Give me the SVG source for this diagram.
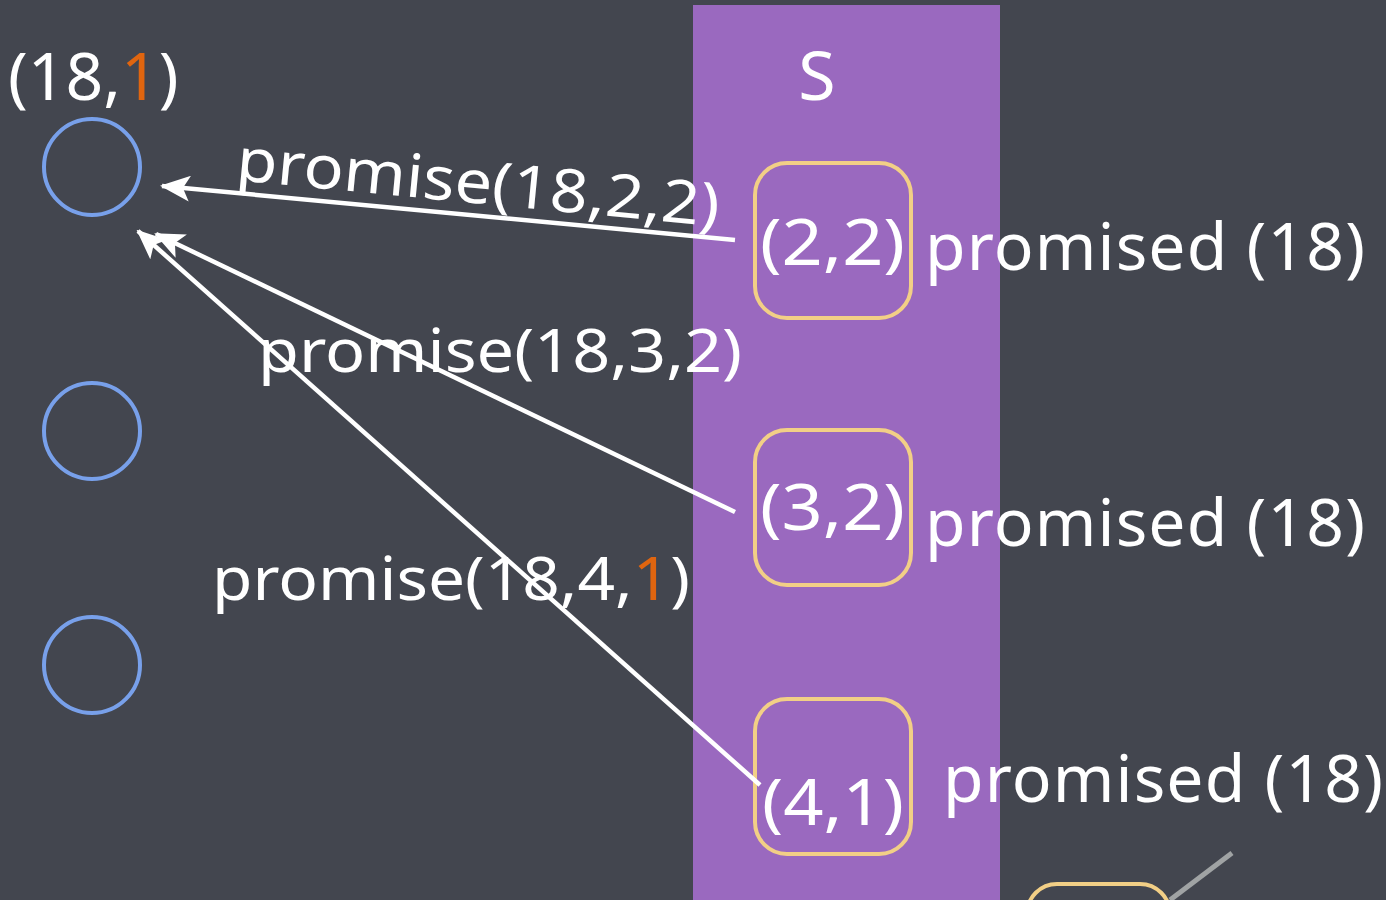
<svg xmlns="http://www.w3.org/2000/svg" width="1386" height="900" viewBox="0 0 1386 900">
<style>
.t{font-family:"Noto Sans","DejaVu Sans",sans-serif;fill:#ffffff}
.o{fill:#e0650f}
.c{fill:none;stroke:#78a0ea;stroke-width:4}
.b{fill:none;stroke:#f2cf86;stroke-width:4}
.a{stroke:#ffffff;stroke-width:4.5;fill:none;marker-end:url(#ah)}
</style>
<defs>
<marker id="ah" viewBox="0 0 30 26" refX="28" refY="13" markerWidth="30" markerHeight="26" markerUnits="userSpaceOnUse" orient="auto">
<path d="M0,0 L30,13 L0,26 L7,13 z" fill="#ffffff"/>
</marker>
</defs>
<rect width="1386" height="900" fill="#43464f"/>
<rect x="693" y="5" width="307" height="895" fill="#9a69bf"/>
<text class="t" x="817" y="100" font-size="68" text-anchor="middle">S</text>
<g id="n181"><text class="t" x="8" y="100" font-size="66">(18,<tspan class="o">1</tspan>)</text></g>
<g id="c1"><circle class="c" cx="92" cy="167" r="48"/></g>
<g id="c2"><circle class="c" cx="92" cy="431" r="48"/></g>
<g id="c3"><circle class="c" cx="92" cy="665" r="48"/></g>
<g id="b1"><rect class="b" x="755" y="163" width="156" height="155" rx="32"/><text class="t" x="760" y="265" font-size="64" textLength="145" lengthAdjust="spacingAndGlyphs">(2,2)</text></g>
<g id="b2"><rect class="b" x="755" y="430" width="156" height="155" rx="32"/><text class="t" x="760" y="530" font-size="64" textLength="145" lengthAdjust="spacingAndGlyphs">(3,2)</text></g>
<g id="b3"><rect class="b" x="755" y="699" width="156" height="155" rx="32"/><text class="t" x="762" y="825" font-size="64" textLength="142" lengthAdjust="spacingAndGlyphs">(4,1)</text></g>
<g id="b4"><rect class="b" x="1027" y="884" width="143" height="60" rx="30"/></g>
<line x1="1170" y1="900" x2="1232" y2="853" stroke="#a0a3a4" stroke-width="5"/>
<text class="t" x="925" y="270" font-size="66" textLength="440" lengthAdjust="spacing">promised (18)</text>
<text class="t" x="925" y="546" font-size="66" textLength="440" lengthAdjust="spacing">promised (18)</text>
<text class="t" x="943" y="802" font-size="66" textLength="440" lengthAdjust="spacing">promised (18)</text>
<g id="connectors">
<line class="a" x1="735" y1="240" x2="162" y2="186"/>
<line class="a" x1="735" y1="512" x2="156" y2="234"/>
<line class="a" x1="760" y1="785" x2="138" y2="231"/>
</g>
<text class="t" transform="translate(235,180) rotate(5.5)" font-size="60" textLength="485" lengthAdjust="spacingAndGlyphs">promise(18,2,2)</text>
<text class="t" x="258" y="372" font-size="60" textLength="484" lengthAdjust="spacingAndGlyphs">promise(18,3,2)</text>
<text class="t" x="212" y="600" font-size="60" textLength="478" lengthAdjust="spacingAndGlyphs">promise(18,4,<tspan class="o">1</tspan>)</text>
</svg>
